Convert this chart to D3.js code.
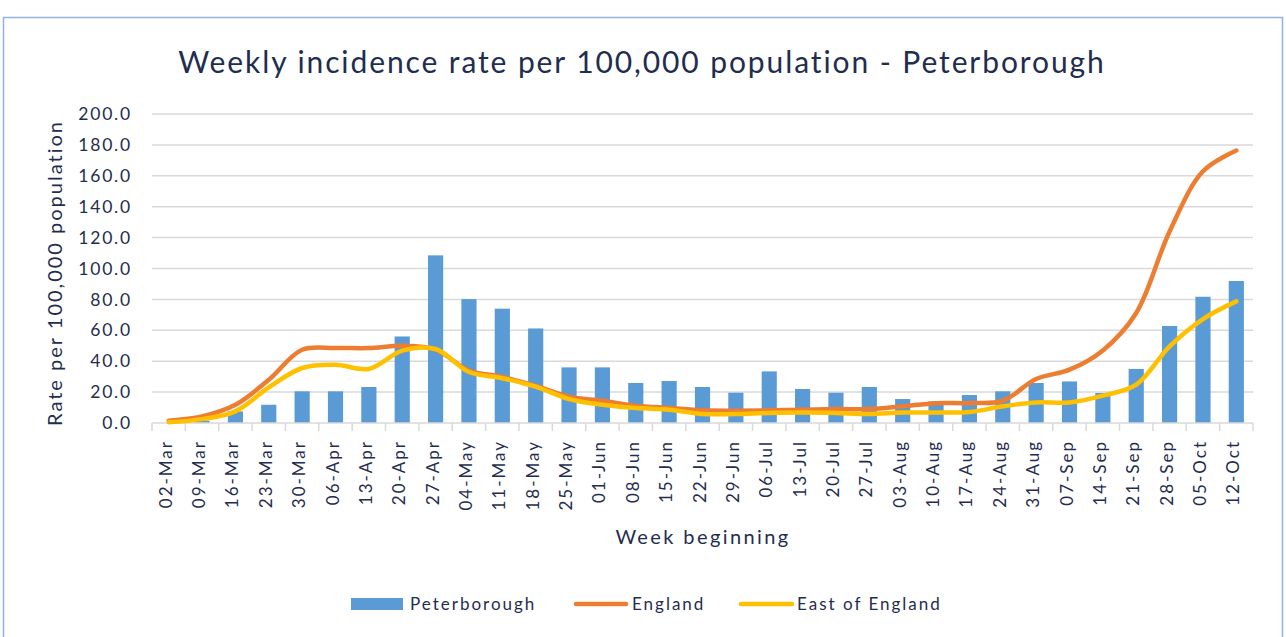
<!DOCTYPE html>
<meta charset="utf-8">
<script src="https://d3js.org/d3.v7.min.js"></script>
<style>
	body { margin: 0; background: #fff; }
	text { font-family: Lato, "Open Sans", sans-serif; fill: #1f2d4f; }
</style>
<div id="chart"></div>
<script>
	// Week labels and series values
	var weeks = ["02-Mar","09-Mar","16-Mar","23-Mar","30-Mar","06-Apr","13-Apr","20-Apr","27-Apr",
		"04-May","11-May","18-May","25-May","01-Jun","08-Jun","15-Jun","22-Jun","29-Jun",
		"06-Jul","13-Jul","20-Jul","27-Jul","03-Aug","10-Aug","17-Aug","24-Aug","31-Aug",
		"07-Sep","14-Sep","21-Sep","28-Sep","05-Oct","12-Oct"];
	var peterborough = [0, 1.5, 7.5, 11.8, 20.5, 20.5, 23.3, 56, 108.5, 80.2, 74, 61.2, 36, 36,
		25.9, 27.2, 23.3, 19.6, 33.4, 22, 19.6, 23.3, 15.5, 14, 18.1, 20.5, 25.9, 26.9, 19.4,
		35, 62.8, 81.7, 91.9];
	var england = [1.5, 4.3, 11.8, 28, 47.4, 48.5, 48.5, 50, 47.5, 34, 29.8, 24, 17, 14.4, 11.2,
		9.7, 8.2, 8, 8.2, 8.6, 9, 9, 10.8, 12.8, 12.9, 14.4, 28.5, 34.5, 47, 71.2, 124, 162.9, 176.4];
	var eastOfEngland = [0.5, 2.5, 7.5, 23, 35.6, 37.7, 35, 46.8, 47.9, 33, 29, 23.5, 15.5, 11.8,
		9.7, 8.6, 5.8, 5.8, 6.5, 6.8, 6.5, 5.8, 6.8, 6.8, 7.1, 10.8, 13.3, 13.3, 17.7, 24.8, 49.6,
		67.3, 78.7];
	var yTicks = [0, 20, 40, 60, 80, 100, 120, 140, 160, 180, 200];

	var width = 1286, height = 637;
	var plotLeft = 152, plotRight = 1253, plotTop = 114, plotBottom = 423;

	var svg = d3.select("#chart").append("svg")
		.attr("width", width)
		.attr("height", height);

	// outer frame
	svg.append("rect")
		.attr("x", 3.5).attr("y", 17.5)
		.attr("width", 1279).attr("height", 640)
		.style("fill", "#fff")
		.style("stroke", "#8eb4e3")
		.style("stroke-width", 1.5);

	// Scales
	var x = d3.scaleBand()
		.domain(weeks)
		.range([plotLeft, plotRight])
		.paddingInner(0.545)
		.paddingOuter(0.2725);
	var xLine = d3.scalePoint()
		.domain(weeks)
		.range([plotLeft, plotRight])
		.padding(0.5);
	var y = d3.scaleLinear()
		.domain([0, 200])
		.range([plotBottom, plotTop]);

	// gridlines
	svg.append("g")
		.selectAll("line")
		.data(yTicks.slice(1))
		.join("line")
		.attr("x1", plotLeft).attr("x2", plotRight)
		.attr("y1", d => y(d)).attr("y2", d => y(d))
		.style("stroke", "#d9d9d9")
		.style("stroke-width", 1.5);

	// Y axis labels
	var yAxis = svg.append("g")
		.attr("transform", "translate(" + plotLeft + ",0)")
		.call(d3.axisLeft(y).tickValues(yTicks).tickSize(0).tickPadding(20).tickFormat(d3.format(".1f")));
	yAxis.select(".domain").remove();
	yAxis.selectAll("text")
		.style("font-family", "Lato, sans-serif")
		.style("font-size", "17.5px")
		.style("letter-spacing", "1.8px")
		.style("fill", "#1f2d4f");

	// Bars
	svg.append("g")
		.selectAll("rect")
		.data(peterborough)
		.join("rect")
		.attr("x", (d, i) => x(weeks[i]))
		.attr("width", x.bandwidth())
		.attr("y", d => y(d))
		.attr("height", d => y(0) - y(d))
		.style("fill", "#5b9bd5");

	// X axis
	var step = (plotRight - plotLeft) / weeks.length;
	var xAxis = svg.append("g")
		.attr("transform", "translate(0," + plotBottom + ")");
	xAxis.append("line")
		.attr("x1", plotLeft).attr("x2", plotRight)
		.style("stroke", "#d9d9d9").style("stroke-width", 1.5);
	xAxis.selectAll(".tk")
		.data(d3.range(weeks.length + 1))
		.join("line")
		.attr("class", "tk")
		.attr("x1", i => plotLeft + i * step).attr("x2", i => plotLeft + i * step)
		.attr("y1", 0).attr("y2", 8)
		.style("stroke", "#d9d9d9").style("stroke-width", 1.5);
	xAxis.selectAll(".lbl")
		.data(weeks)
		.join("text")
		.attr("class", "lbl")
		.attr("transform", d => "translate(" + (xLine(d) + 3) + ",17) rotate(-90)")
		.attr("text-anchor", "end")
		.style("font-size", "17px")
		.style("letter-spacing", "2px")
		.text(d => d);

	// Lines
	var line = d3.line()
		.x((d, i) => xLine(weeks[i]))
		.y(d => y(d))
		.curve(d3.curveCatmullRom);
	svg.append("path")
		.datum(england)
		.attr("d", line)
		.style("fill", "none")
		.style("stroke", "#ed7d31")
		.style("stroke-width", 4.5)
		.style("stroke-linecap", "round")
		.style("stroke-linejoin", "round");
	svg.append("path")
		.datum(eastOfEngland)
		.attr("d", line)
		.style("fill", "none")
		.style("stroke", "#ffc000")
		.style("stroke-width", 4.5)
		.style("stroke-linecap", "round")
		.style("stroke-linejoin", "round");

	// Titles
	svg.append("text")
		.attr("x", 642).attr("y", 73)
		.attr("text-anchor", "middle")
		.style("font-size", "30px")
		.style("letter-spacing", "1.9px")
		.text("Weekly incidence rate per 100,000 population - Peterborough");
	svg.append("text")
		.attr("transform", "translate(62,273) rotate(-90)")
		.attr("text-anchor", "middle")
		.style("font-size", "20px")
		.style("letter-spacing", "2px")
		.text("Rate per 100,000 population");
	svg.append("text")
		.attr("x", 703).attr("y", 544)
		.attr("text-anchor", "middle")
		.style("font-size", "20px")
		.style("letter-spacing", "2.4px")
		.text("Week beginning");

	// Legend
	var legend = svg.append("g").style("font-size", "17px").style("letter-spacing", "2px");
	legend.append("rect")
		.attr("x", 351).attr("y", 598).attr("width", 52).attr("height", 12)
		.style("fill", "#5b9bd5");
	legend.append("text").attr("x", 410).attr("y", 610).text("Peterborough");
	legend.append("line")
		.attr("x1", 576).attr("x2", 626).attr("y1", 604).attr("y2", 604)
		.style("stroke", "#ed7d31").style("stroke-width", 4.5).style("stroke-linecap", "round");
	legend.append("text").attr("x", 632).attr("y", 610).text("England");
	legend.append("line")
		.attr("x1", 741).attr("x2", 792).attr("y1", 604).attr("y2", 604)
		.style("stroke", "#ffc000").style("stroke-width", 4.5).style("stroke-linecap", "round");
	legend.append("text").attr("x", 797).attr("y", 610).text("East of England");
</script>
